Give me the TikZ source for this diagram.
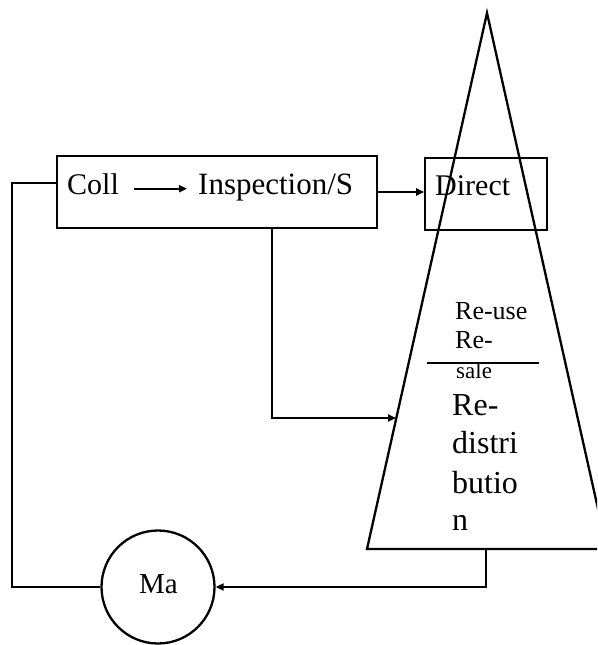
\documentclass[tikz,border=0pt]{standalone}
\usepackage{fontspec}
\setmainfont{Liberation Serif}
\usetikzlibrary{arrows.meta}
\newcommand{\fs}[1]{\fontsize{#1pt}{1.2\dimexpr#1pt\relax}\selectfont}
\begin{document}
\begin{tikzpicture}[x=1pt,y=-1pt,
  boxed/.style={draw,line width=1.6pt,minimum width=#1,minimum height=72pt,inner sep=0pt},
  word/.style={inner sep=0pt,anchor=base west,font=\fs{30}},
  arr/.style={line width=1.8pt,-{Triangle[length=8pt,width=7pt]}},
  wire/.style={line width=1.8pt},
  thick line/.style={line width=2.3pt}]
\useasboundingbox (0,0) rectangle (597,645);
\clip (0,0) rectangle (597,645);

% pyramid of recovery options
\coordinate (apex) at (487,13);
\coordinate (baseL) at (367,549);
\coordinate (baseR) at (607,549);
\draw[thick line,line join=miter] (baseL) -- (apex) -- (baseR) -- cycle;
\coordinate (redin) at (396,418);
\coordinate (baseout) at (486,549);

% process boxes
\node[boxed=320pt] (box1) at (217,192) {};
\node[boxed=122pt] (direct) at (486,194) {};
\node[word] (coll) at (67,194) {Coll};
\node[word,font=\fs{31}] (insp) at (198,194) {Inspection/S};
\node[word] (dtext) at (435,195) {Direct};

% labels inside the pyramid
\node[word,font=\fs{26}] (reuse) at (455,319) {Re-use};
\node[word,font=\fs{26}] (resale1) at (455,348) {Re-};
\node[word,font=\fs{23}] (resale2) at (456,378) {sale};
\draw[thick line] (427,363) -- (539,363);
\node[word,font=\fs{32}] (redist1) at (452,415) {Re-};
\node[word,font=\fs{32}] (redist2) at (452,453) {distri};
\node[word,font=\fs{32}] (redist3) at (452,493) {butio};
\node[word,font=\fs{32}] (redist4) at (452,530) {n};

% remanufacturing circle
\node[draw,circle,thick line,minimum size=113pt,inner sep=0pt] (ma) at (158,587) {};
\node[word,font=\fs{29}] (matext) at (139,593) {Ma};

% connectors
\draw[arr] ([shift={(15pt,3pt)}]coll.mid east) -- ([shift={(-11pt,3pt)}]insp.mid west);
\draw[arr] (box1.east) -- (box1.east -| direct.west);
\draw[arr] ([xshift=55pt]box1.south) |- (redin);
\draw[wire] ([yshift=9pt]box1.west) -- ++(-44,0) |- (ma.west);
\draw[arr] (baseout) |- (ma.east);
\end{tikzpicture}
\end{document}
